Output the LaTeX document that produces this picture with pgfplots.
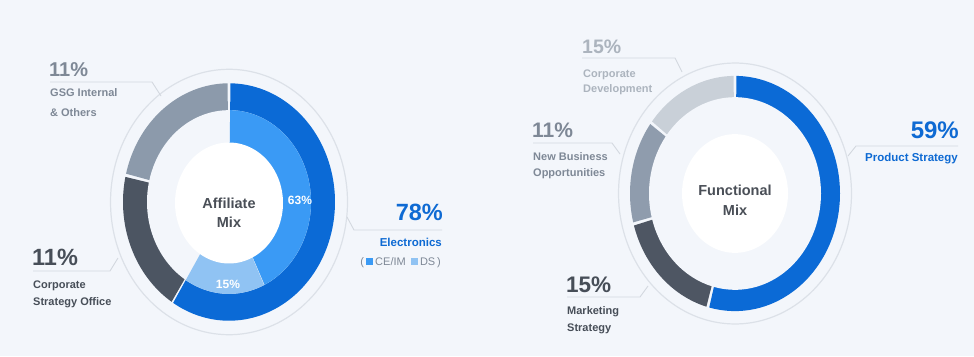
\documentclass[border=0pt]{standalone}
\usepackage{pgfplots}
\pgfplotsset{compat=1.18}
\usepackage{fontspec}
\setmainfont{Liberation Sans}
\definecolor{bgc}{HTML}{F3F6FB}
\definecolor{elec}{HTML}{0B6AD6}
\definecolor{ceim}{HTML}{3A9AF5}
\definecolor{ds}{HTML}{90C3F3}
\definecolor{gsg}{HTML}{8C9AAB}
\definecolor{cso}{HTML}{4C5562}
\definecolor{cdev}{HTML}{C9D0D8}
\definecolor{nbiz}{HTML}{8F9CAD}
\definecolor{mkt}{HTML}{4E5663}
\definecolor{faint}{HTML}{DCE1E8}
\definecolor{lead}{HTML}{D3D8DF}
\definecolor{txtdark}{HTML}{474E58}
\definecolor{txtmid}{HTML}{7E8896}
\definecolor{txtlight}{HTML}{ACB4BE}
\definecolor{txtblue}{HTML}{0E6AD3}
\definecolor{centre}{HTML}{4A4F57}

% vertical stretch of the reference picture
\def\ys{1.12}
% sector: cx, cy, radius, from angle, to angle, colour
\newcommand\sector[6]{%
  \addplot[fill=#6, draw=none, domain=#4:#5, samples=90]
    ({#1+#3*cos(x)},{#2-\ys*#3*sin(x)}) -- (axis cs:#1,#2) -- cycle;}
% disk: cx, cy, radius, colour
\newcommand\disk[4]{%
  \addplot[fill=#4, draw=none, domain=0:360, samples=140]
    ({#1+#3*cos(x)},{#2-\ys*#3*sin(x)}) -- cycle;}
% ring line: cx, cy, radius
\newcommand\ring[3]{%
  \addplot[draw=faint, line width=1.2pt, domain=0:360, samples=160]
    ({#1+#3*cos(x)},{#2-\ys*#3*sin(x)});}
\newcommand\lab[5]{% x, baseline y, anchor, colour, font size ; text after
  \node[anchor=#3, inner sep=0, text=#4, font=\fontsize{#5}{#5}\bfseries\selectfont] at (axis cs:#1,#2)}

\begin{document}
\begin{tikzpicture}
\begin{axis}[at={(0,0)}, anchor=south west, scale only axis,
    width=974pt, height=356pt, xmin=0, xmax=974, ymin=0, ymax=356,
    y dir=reverse, hide axis, clip=false]
\addplot[fill=bgc, draw=none] coordinates {(0,0) (974,0) (974,356) (0,356)} -- cycle;

% ---- Left donut: Affiliate Mix (segment angles)
\ring{229}{202}{118.5}
\sector{229}{202}{106}{90.8}{166.2}{gsg}
\sector{229}{202}{106}{167.8}{237.2}{cso}
\sector{229}{202}{106}{-121.8}{89.2}{elec}
\disk{229}{202}{82}{bgc}
\sector{229}{202}{82}{-64.3}{89.2}{ceim}
\sector{229}{202}{82}{-121.8}{-64.7}{ds}
\disk{229}{203}{54}{white}

% ---- Right donut: Functional Mix
\ring{735}{193.5}{116.5}
\sector{735}{193.5}{105}{-104.2}{89.2}{elec}
\sector{735}{193.5}{105}{-164.2}{-105.8}{mkt}
\sector{735}{193.5}{105}{143.8}{194.2}{nbiz}
\sector{735}{193.5}{105}{90.8}{142.2}{cdev}
\disk{735}{193.5}{86}{bgc}
\disk{735}{193.5}{53}{white}

% ---- leader lines
\addplot[lead, line width=0.9pt] coordinates {(50,82) (152,82) (161,96)};
\addplot[lead, line width=0.9pt] coordinates {(33,271) (110,271) (118,258)};
\addplot[lead, line width=0.9pt] coordinates {(347,217) (354,230) (442,230)};
\addplot[lead, line width=0.9pt] coordinates {(582,58) (675,58) (682,72)};
\addplot[lead, line width=0.9pt] coordinates {(533,143) (612,143) (620,154)};
\addplot[lead, line width=0.9pt] coordinates {(567,297) (640,297) (648,286)};
\addplot[lead, line width=0.9pt] coordinates {(848,156) (856,146) (958,146)};

% ---- left donut texts
\lab{49}{76}{base west}{txtmid}{20} {11\%};
\lab{50}{96.5}{base west}{txtmid}{11} {GSG Internal};
\lab{50}{116}{base west}{txtmid}{11} {\& Others};
\lab{32}{265}{base west}{txtdark}{23.5} {11\%};
\lab{33}{288.5}{base west}{txtdark}{11} {Corporate};
\lab{33}{305}{base west}{txtdark}{11} {Strategy Office};
\lab{443}{220}{base east}{txtblue}{23.5} {78\%};
\lab{442}{246}{base east}{txtblue}{11.5} {Electronics};
\node[anchor=base east, inner sep=0, text=txtmid, font=\fontsize{11}{11}\selectfont] at (axis cs:441,265) {(\,\textcolor{ceim}{\rule{7.5pt}{7.5pt}}\,CE/IM\, \textcolor{ds}{\rule{7.5pt}{7.5pt}}\,DS\,)};
\lab{300}{204}{base}{white}{12} {63\%};
\lab{228}{288}{base}{white}{12} {15\%};
\lab{229}{208}{base}{centre}{14.5} {Affiliate};
\lab{229}{227}{base}{centre}{14.5} {Mix};

% ---- right donut texts
\lab{582}{53}{base west}{txtlight}{19.5} {15\%};
\lab{583}{77}{base west}{txtlight}{11} {Corporate};
\lab{583}{92.5}{base west}{txtlight}{11} {Development};
\lab{532}{137}{base west}{txtmid}{21} {11\%};
\lab{533}{160}{base west}{txtmid}{11} {New Business};
\lab{533}{176.5}{base west}{txtmid}{11} {Opportunities};
\lab{566}{292}{base west}{txtdark}{22.5} {15\%};
\lab{567}{314.5}{base west}{txtdark}{11} {Marketing};
\lab{567}{331}{base west}{txtdark}{11} {Strategy};
\lab{959}{138}{base east}{txtblue}{24} {59\%};
\lab{958}{161.5}{base east}{txtblue}{11.5} {Product Strategy};
\lab{735}{195}{base}{centre}{14.5} {Functional};
\lab{735}{215}{base}{centre}{14.5} {Mix};
\end{axis}
\end{tikzpicture}
\end{document}
